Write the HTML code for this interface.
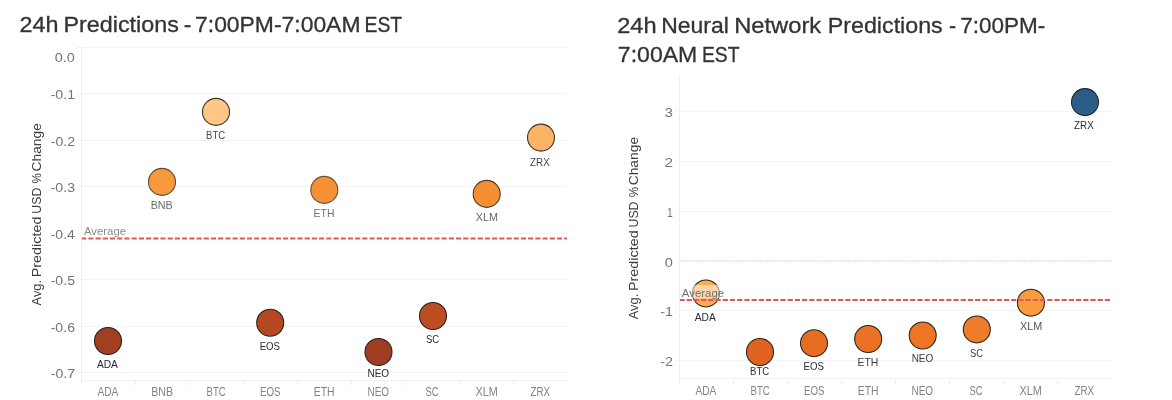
<!DOCTYPE html>
<html><head><meta charset="utf-8"><title>24h Predictions</title>
<style>
html,body{margin:0;padding:0;background:#fff;}
body{width:1172px;height:400px;overflow:hidden;}
svg{display:block;font-family:"Liberation Sans",sans-serif;}
</style></head><body>
<svg width="1172" height="400" viewBox="0 0 1172 400">
<rect width="1172" height="400" fill="#fff"/>
<g shape-rendering="crispEdges">
<line x1="77" x2="567" y1="47.5" y2="47.5" stroke="#f3f3f3" stroke-width="1"/>
<line x1="77" x2="567" y1="93.5" y2="93.5" stroke="#f3f3f3" stroke-width="1"/>
<line x1="77" x2="567" y1="140.5" y2="140.5" stroke="#f3f3f3" stroke-width="1"/>
<line x1="77" x2="567" y1="186.5" y2="186.5" stroke="#f3f3f3" stroke-width="1"/>
<line x1="77" x2="567" y1="233.5" y2="233.5" stroke="#f3f3f3" stroke-width="1"/>
<line x1="77" x2="567" y1="279.5" y2="279.5" stroke="#f3f3f3" stroke-width="1"/>
<line x1="77" x2="567" y1="326.5" y2="326.5" stroke="#f3f3f3" stroke-width="1"/>
<line x1="77" x2="567" y1="372.5" y2="372.5" stroke="#f3f3f3" stroke-width="1"/>
<line x1="81.5" x2="81.5" y1="47" y2="385" stroke="#efefef" stroke-width="1"/>
<line x1="81.5" x2="567" y1="380.5" y2="380.5" stroke="#efefef" stroke-width="1"/>
<line x1="135.5" x2="135.5" y1="381" y2="385" stroke="#efefef" stroke-width="1"/>
<line x1="189.5" x2="189.5" y1="381" y2="385" stroke="#efefef" stroke-width="1"/>
<line x1="243.5" x2="243.5" y1="381" y2="385" stroke="#efefef" stroke-width="1"/>
<line x1="297.5" x2="297.5" y1="381" y2="385" stroke="#efefef" stroke-width="1"/>
<line x1="351.5" x2="351.5" y1="381" y2="385" stroke="#efefef" stroke-width="1"/>
<line x1="405.5" x2="405.5" y1="381" y2="385" stroke="#efefef" stroke-width="1"/>
<line x1="459.5" x2="459.5" y1="381" y2="385" stroke="#efefef" stroke-width="1"/>
<line x1="513.5" x2="513.5" y1="381" y2="385" stroke="#efefef" stroke-width="1"/>
</g>
<text x="19.43" y="31.80" font-size="22.1" fill="#333" textLength="38.97" lengthAdjust="spacingAndGlyphs" stroke="#333" stroke-width="0.3">24h</text>
<text x="63.43" y="31.80" font-size="22.1" fill="#333" textLength="115.43" lengthAdjust="spacingAndGlyphs" stroke="#333" stroke-width="0.3">Predictions</text>
<text x="183.77" y="31.80" font-size="22.1" fill="#333" textLength="7.61" lengthAdjust="spacingAndGlyphs" stroke="#333" stroke-width="0.3">-</text>
<text x="195.06" y="31.80" font-size="22.1" fill="#333" textLength="165.40" lengthAdjust="spacingAndGlyphs" stroke="#333" stroke-width="0.3">7:00PM-7:00AM</text>
<text x="364.55" y="31.80" font-size="22.1" fill="#333" textLength="37.63" lengthAdjust="spacingAndGlyphs" stroke="#333" stroke-width="0.3">EST</text>
<text x="54.82" y="61.50" font-size="13.6" fill="#747474" textLength="20.09" lengthAdjust="spacingAndGlyphs">0.0</text>
<text x="50.66" y="98.90" font-size="13.6" fill="#747474" textLength="24.42" lengthAdjust="spacingAndGlyphs">-0.1</text>
<text x="50.66" y="145.90" font-size="13.6" fill="#747474" textLength="24.50" lengthAdjust="spacingAndGlyphs">-0.2</text>
<text x="50.66" y="191.90" font-size="13.6" fill="#747474" textLength="24.35" lengthAdjust="spacingAndGlyphs">-0.3</text>
<text x="50.67" y="238.90" font-size="13.6" fill="#747474" textLength="24.20" lengthAdjust="spacingAndGlyphs">-0.4</text>
<text x="50.66" y="284.90" font-size="13.6" fill="#747474" textLength="24.35" lengthAdjust="spacingAndGlyphs">-0.5</text>
<text x="50.66" y="331.90" font-size="13.6" fill="#747474" textLength="24.35" lengthAdjust="spacingAndGlyphs">-0.6</text>
<text x="50.66" y="377.90" font-size="13.6" fill="#747474" textLength="24.50" lengthAdjust="spacingAndGlyphs">-0.7</text>
<g transform="translate(40.6,305.4) rotate(-90)"><text x="0.00" y="0.00" font-size="12.3" fill="#3c3c3c" textLength="25.39" lengthAdjust="spacingAndGlyphs">Avg.</text><text x="28.15" y="0.00" font-size="12.3" fill="#3c3c3c" textLength="60.68" lengthAdjust="spacingAndGlyphs">Predicted</text><text x="91.67" y="0.00" font-size="12.3" fill="#3c3c3c" textLength="26.10" lengthAdjust="spacingAndGlyphs">USD</text><text x="121.89" y="0.00" font-size="12.3" fill="#3c3c3c" textLength="10.30" lengthAdjust="spacingAndGlyphs">%</text><text x="133.91" y="0.00" font-size="12.3" fill="#3c3c3c" textLength="48.35" lengthAdjust="spacingAndGlyphs">Change</text></g>
<rect x="83" y="225" width="44" height="12" fill="#fff"/>
<text x="84.00" y="234.60" font-size="11.8" fill="#8a8a8a" textLength="42.03" lengthAdjust="spacingAndGlyphs">Average</text>
<circle cx="108" cy="341" r="13.5" fill="#a23f23" stroke="#2a2220" stroke-width="1.1"/>
<circle cx="162" cy="181.9" r="13.5" fill="#f5993b" stroke="#5e4c3a" stroke-width="1.1"/>
<circle cx="216" cy="111.9" r="13.5" fill="#ffc685" stroke="#3e352c" stroke-width="1.1"/>
<circle cx="270.2" cy="322.8" r="13.5" fill="#b44921" stroke="#2a2220" stroke-width="1.1"/>
<circle cx="324.3" cy="189.9" r="13.5" fill="#f59134" stroke="#65523f" stroke-width="1.1"/>
<circle cx="378.5" cy="352" r="13.5" fill="#9e3d22" stroke="#2a2220" stroke-width="1.1"/>
<circle cx="433" cy="316" r="13.5" fill="#bc4d22" stroke="#2a2220" stroke-width="1.1"/>
<circle cx="486.7" cy="193.9" r="13.5" fill="#f38e33" stroke="#4c3c2e" stroke-width="1.1"/>
<circle cx="541" cy="137.6" r="13.5" fill="#fbb466" stroke="#3e352c" stroke-width="1.1"/>
<text x="96.90" y="367.80" font-size="10.9" fill="#2b2b2b" textLength="21.01" lengthAdjust="spacingAndGlyphs">ADA</text>
<text x="150.64" y="209.00" font-size="10.9" fill="#6a6a6a" textLength="22.00" lengthAdjust="spacingAndGlyphs">BNB</text>
<text x="206.04" y="139.00" font-size="10.9" fill="#484848" textLength="19.10" lengthAdjust="spacingAndGlyphs">BTC</text>
<text x="259.63" y="350.00" font-size="10.9" fill="#2b2b2b" textLength="20.43" lengthAdjust="spacingAndGlyphs">EOS</text>
<text x="313.57" y="217.10" font-size="10.9" fill="#707070" textLength="20.87" lengthAdjust="spacingAndGlyphs">ETH</text>
<text x="367.45" y="377.20" font-size="10.9" fill="#2b2b2b" textLength="21.67" lengthAdjust="spacingAndGlyphs">NEO</text>
<text x="426.08" y="343.10" font-size="10.9" fill="#2b2b2b" textLength="13.09" lengthAdjust="spacingAndGlyphs">SC</text>
<text x="475.73" y="221.10" font-size="10.9" fill="#666" textLength="22.25" lengthAdjust="spacingAndGlyphs">XLM</text>
<text x="530.11" y="165.50" font-size="10.9" fill="#484848" textLength="19.59" lengthAdjust="spacingAndGlyphs">ZRX</text>
<line x1="82" x2="567" y1="238.5" y2="238.5" stroke="#e0575c" stroke-width="2" stroke-dasharray="5.2 2.01" stroke-dashoffset="0.91"/>
<text x="97.40" y="395.60" font-size="12.3" fill="#838383" textLength="21.01" lengthAdjust="spacingAndGlyphs">ADA</text>
<text x="151.14" y="395.60" font-size="12.3" fill="#838383" textLength="22.00" lengthAdjust="spacingAndGlyphs">BNB</text>
<text x="206.54" y="395.60" font-size="12.3" fill="#838383" textLength="19.10" lengthAdjust="spacingAndGlyphs">BTC</text>
<text x="259.93" y="395.60" font-size="12.3" fill="#838383" textLength="20.43" lengthAdjust="spacingAndGlyphs">EOS</text>
<text x="313.77" y="395.60" font-size="12.3" fill="#838383" textLength="20.87" lengthAdjust="spacingAndGlyphs">ETH</text>
<text x="367.45" y="395.60" font-size="12.3" fill="#838383" textLength="21.67" lengthAdjust="spacingAndGlyphs">NEO</text>
<text x="425.58" y="395.60" font-size="12.3" fill="#838383" textLength="13.09" lengthAdjust="spacingAndGlyphs">SC</text>
<text x="475.53" y="395.60" font-size="12.3" fill="#838383" textLength="22.25" lengthAdjust="spacingAndGlyphs">XLM</text>
<text x="530.51" y="395.60" font-size="12.3" fill="#838383" textLength="19.59" lengthAdjust="spacingAndGlyphs">ZRX</text>
<g shape-rendering="crispEdges">
<line x1="675" x2="1111" y1="111.5" y2="111.5" stroke="#f3f3f3" stroke-width="1"/>
<line x1="675" x2="1111" y1="161.5" y2="161.5" stroke="#f3f3f3" stroke-width="1"/>
<line x1="675" x2="1111" y1="211.5" y2="211.5" stroke="#f3f3f3" stroke-width="1"/>
<line x1="675" x2="680" y1="261" y2="261" stroke="#f3f3f3" stroke-width="1"/>
<line x1="681" x2="1111" y1="261" y2="261" stroke="#dedede" stroke-width="2" stroke-dasharray="1.1 1.1" shape-rendering="geometricPrecision"/>
<line x1="675" x2="1111" y1="310.5" y2="310.5" stroke="#f3f3f3" stroke-width="1"/>
<line x1="675" x2="1111" y1="360.5" y2="360.5" stroke="#f3f3f3" stroke-width="1"/>
<line x1="679.5" x2="679.5" y1="76" y2="379" stroke="#efefef" stroke-width="1"/>
<line x1="679.5" x2="1111" y1="378.5" y2="378.5" stroke="#efefef" stroke-width="1"/>
<line x1="679.5" x2="679.5" y1="380" y2="384" stroke="#efefef" stroke-width="1"/>
<line x1="733.5" x2="733.5" y1="380" y2="384" stroke="#efefef" stroke-width="1"/>
<line x1="787.5" x2="787.5" y1="380" y2="384" stroke="#efefef" stroke-width="1"/>
<line x1="841.5" x2="841.5" y1="380" y2="384" stroke="#efefef" stroke-width="1"/>
<line x1="895.5" x2="895.5" y1="380" y2="384" stroke="#efefef" stroke-width="1"/>
<line x1="949.5" x2="949.5" y1="380" y2="384" stroke="#efefef" stroke-width="1"/>
<line x1="1003.5" x2="1003.5" y1="380" y2="384" stroke="#efefef" stroke-width="1"/>
<line x1="1057.5" x2="1057.5" y1="380" y2="384" stroke="#efefef" stroke-width="1"/>
</g>
<text x="617.22" y="32.80" font-size="22.1" fill="#333" textLength="39.40" lengthAdjust="spacingAndGlyphs" stroke="#333" stroke-width="0.3">24h</text>
<text x="661.27" y="32.80" font-size="22.1" fill="#333" textLength="67.55" lengthAdjust="spacingAndGlyphs" stroke="#333" stroke-width="0.3">Neural</text>
<text x="734.20" y="32.80" font-size="22.1" fill="#333" textLength="86.94" lengthAdjust="spacingAndGlyphs" stroke="#333" stroke-width="0.3">Network</text>
<text x="827.74" y="32.80" font-size="22.1" fill="#333" textLength="115.02" lengthAdjust="spacingAndGlyphs" stroke="#333" stroke-width="0.3">Predictions</text>
<text x="949.04" y="32.80" font-size="22.1" fill="#333" textLength="7.07" lengthAdjust="spacingAndGlyphs" stroke="#333" stroke-width="0.3">-</text>
<text x="960.18" y="32.80" font-size="22.1" fill="#333" textLength="85.02" lengthAdjust="spacingAndGlyphs" stroke="#333" stroke-width="0.3">7:00PM-</text>
<text x="617.85" y="61.70" font-size="22.1" fill="#333" textLength="79.43" lengthAdjust="spacingAndGlyphs" stroke="#333" stroke-width="0.3">7:00AM</text>
<text x="701.95" y="61.70" font-size="22.1" fill="#333" textLength="37.63" lengthAdjust="spacingAndGlyphs" stroke="#333" stroke-width="0.3">EST</text>
<text x="664.71" y="117.30" font-size="13.4" fill="#747474" textLength="8.20" lengthAdjust="spacingAndGlyphs">3</text>
<text x="664.53" y="167.30" font-size="13.4" fill="#747474" textLength="8.56" lengthAdjust="spacingAndGlyphs">2</text>
<text x="667.02" y="217.30" font-size="13.4" fill="#747474" textLength="5.75" lengthAdjust="spacingAndGlyphs">1</text>
<text x="664.72" y="266.80" font-size="13.4" fill="#747474" textLength="8.11" lengthAdjust="spacingAndGlyphs">0</text>
<text x="660.15" y="316.30" font-size="13.4" fill="#747474" textLength="12.78" lengthAdjust="spacingAndGlyphs">-1</text>
<text x="660.15" y="366.30" font-size="13.4" fill="#747474" textLength="12.86" lengthAdjust="spacingAndGlyphs">-2</text>
<g transform="translate(638.2,319.2) rotate(-90)"><text x="0.00" y="0.00" font-size="12.3" fill="#3c3c3c" textLength="25.39" lengthAdjust="spacingAndGlyphs">Avg.</text><text x="28.15" y="0.00" font-size="12.3" fill="#3c3c3c" textLength="60.68" lengthAdjust="spacingAndGlyphs">Predicted</text><text x="91.67" y="0.00" font-size="12.3" fill="#3c3c3c" textLength="26.10" lengthAdjust="spacingAndGlyphs">USD</text><text x="121.89" y="0.00" font-size="12.3" fill="#3c3c3c" textLength="10.30" lengthAdjust="spacingAndGlyphs">%</text><text x="133.91" y="0.00" font-size="12.3" fill="#3c3c3c" textLength="48.35" lengthAdjust="spacingAndGlyphs">Change</text></g>
<circle cx="705.9" cy="293.4" r="13.5" fill="#fcad52" stroke="#262220" stroke-width="1.05"/>
<circle cx="760" cy="352" r="13.5" fill="#e06420" stroke="#262220" stroke-width="1.05"/>
<circle cx="814" cy="343.2" r="13.5" fill="#e76d22" stroke="#262220" stroke-width="1.05"/>
<circle cx="868.2" cy="339" r="13.5" fill="#ea7125" stroke="#262220" stroke-width="1.05"/>
<circle cx="922.7" cy="335.5" r="13.5" fill="#ec7526" stroke="#262220" stroke-width="1.05"/>
<circle cx="976.8" cy="329.4" r="13.5" fill="#ef7c2a" stroke="#262220" stroke-width="1.05"/>
<circle cx="1030.9" cy="302.7" r="13.5" fill="#f89c3e" stroke="#262220" stroke-width="1.05"/>
<circle cx="1085" cy="102.1" r="13.5" fill="#2b5c8a" stroke="#262220" stroke-width="1.05"/>
<text x="694.80" y="320.60" font-size="10.9" fill="#2b2b2b" textLength="21.01" lengthAdjust="spacingAndGlyphs">ADA</text>
<text x="750.04" y="375.20" font-size="10.9" fill="#2b2b2b" textLength="19.10" lengthAdjust="spacingAndGlyphs">BTC</text>
<text x="803.43" y="370.20" font-size="10.9" fill="#2b2b2b" textLength="20.43" lengthAdjust="spacingAndGlyphs">EOS</text>
<text x="857.47" y="366.20" font-size="10.9" fill="#3c3c3c" textLength="20.87" lengthAdjust="spacingAndGlyphs">ETH</text>
<text x="911.65" y="362.20" font-size="10.9" fill="#3c3c3c" textLength="21.67" lengthAdjust="spacingAndGlyphs">NEO</text>
<text x="969.88" y="357.20" font-size="10.9" fill="#3c3c3c" textLength="13.09" lengthAdjust="spacingAndGlyphs">SC</text>
<text x="1019.93" y="329.90" font-size="10.9" fill="#555" textLength="22.25" lengthAdjust="spacingAndGlyphs">XLM</text>
<text x="1074.11" y="129.40" font-size="10.9" fill="#2b2b2b" textLength="19.59" lengthAdjust="spacingAndGlyphs">ZRX</text>
<rect x="681" y="285" width="44" height="13.5" fill="#fff" fill-opacity="0.5"/>
<text x="681.80" y="296.80" font-size="11.8" fill="#707070" textLength="42.33" lengthAdjust="spacingAndGlyphs">Average</text>
<line x1="680" x2="1111" y1="300" y2="300" stroke="#e0575c" stroke-width="2" stroke-dasharray="5.2 2.01" stroke-dashoffset="0.54"/>
<text x="695.40" y="395.10" font-size="12.3" fill="#838383" textLength="21.01" lengthAdjust="spacingAndGlyphs">ADA</text>
<text x="750.54" y="395.10" font-size="12.3" fill="#838383" textLength="19.10" lengthAdjust="spacingAndGlyphs">BTC</text>
<text x="803.93" y="395.10" font-size="12.3" fill="#838383" textLength="20.43" lengthAdjust="spacingAndGlyphs">EOS</text>
<text x="857.77" y="395.10" font-size="12.3" fill="#838383" textLength="20.87" lengthAdjust="spacingAndGlyphs">ETH</text>
<text x="911.45" y="395.10" font-size="12.3" fill="#838383" textLength="21.67" lengthAdjust="spacingAndGlyphs">NEO</text>
<text x="969.58" y="395.10" font-size="12.3" fill="#838383" textLength="13.09" lengthAdjust="spacingAndGlyphs">SC</text>
<text x="1019.53" y="395.10" font-size="12.3" fill="#838383" textLength="22.25" lengthAdjust="spacingAndGlyphs">XLM</text>
<text x="1074.51" y="395.10" font-size="12.3" fill="#838383" textLength="19.59" lengthAdjust="spacingAndGlyphs">ZRX</text>
</svg></body></html>
